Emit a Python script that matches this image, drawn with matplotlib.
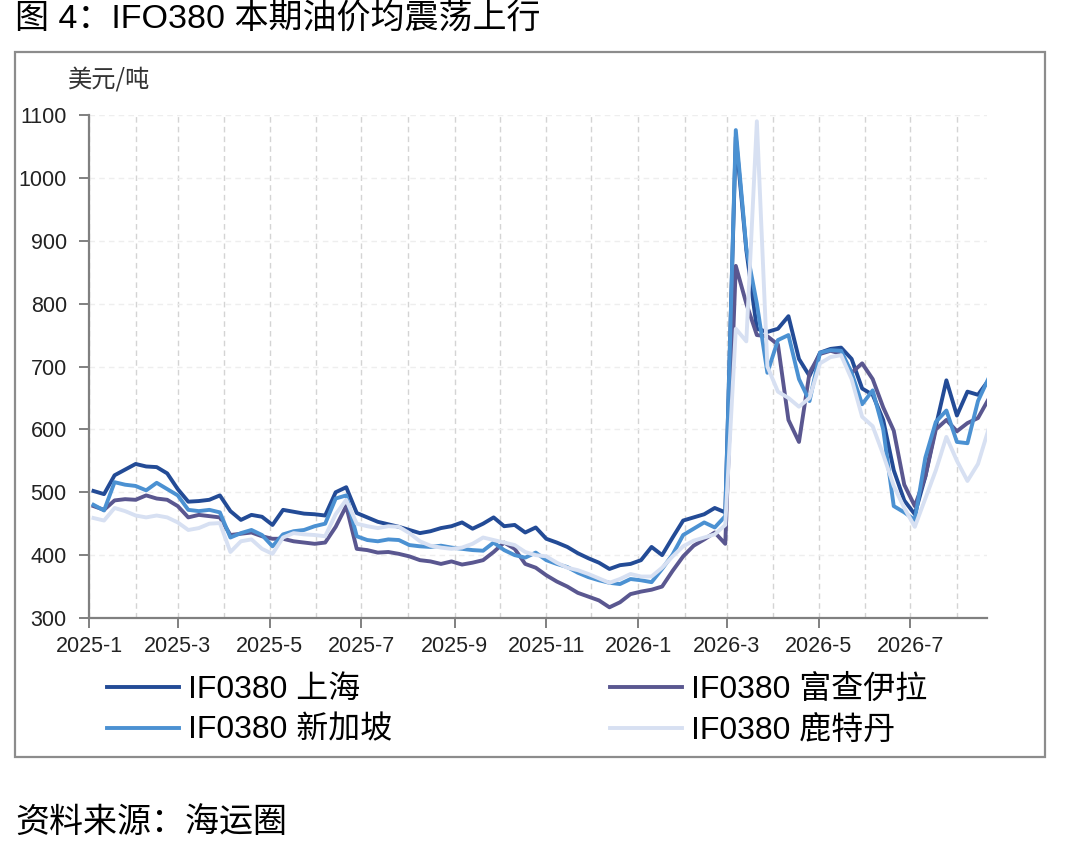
import matplotlib
matplotlib.use("Agg")
import matplotlib.pyplot as plt
import matplotlib.dates as mdates
from matplotlib.patches import Rectangle
from matplotlib.ticker import FuncFormatter, MultipleLocator
import pandas as pd

# -----------------------------
# Data (weekly readings, USD/t)
# -----------------------------
dates = pd.date_range("2025-01-04", periods=86, freq="7D")

shanghai = [502, 497, 527, 536, 545, 541, 540, 530, 505, 485,
            486, 488, 495, 470, 456, 464, 461, 448, 472, 469,
            466, 465, 463, 500, 508, 467, 460, 453, 449, 445,
            440, 435, 438, 443, 446, 452, 442, 450, 460, 446,
            448, 436, 444, 426, 420, 413, 403, 395, 388, 378,
            384, 386, 392, 413, 400, 428, 455, 460, 465, 475,
            468, 1065, 885, 760, 755, 760, 780, 712, 685, 722,
            728, 730, 712, 665, 655, 615, 535, 487, 465, 525,
            605, 678, 622, 660, 655, 678]

fujairah = [478, 472, 487, 489, 488, 495, 490, 488, 478, 460,
            464, 462, 460, 432, 434, 436, 430, 426, 426, 422,
            420, 418, 420, 445, 478, 410, 408, 404, 405, 402,
            398, 392, 390, 386, 390, 385, 388, 392, 405, 420,
            410, 386, 380, 368, 358, 350, 340, 334, 328, 317,
            325, 338, 342, 345, 350, 375, 398, 415, 425, 436,
            418, 860, 800, 750, 748, 735, 615, 580, 690, 720,
            725, 720, 690, 705, 680, 635, 598, 512, 478, 525,
            600, 615, 597, 610, 618, 648]

singapore = [480, 471, 516, 512, 510, 503, 515, 505, 495, 472,
             470, 472, 468, 428, 435, 440, 432, 414, 433, 438,
             440, 446, 450, 490, 495, 430, 424, 422, 425, 424,
             416, 414, 413, 415, 412, 410, 408, 407, 420, 408,
             400, 396, 404, 392, 386, 381, 372, 365, 360, 356,
             354, 362, 360, 357, 378, 401, 432, 442, 452, 444,
             462, 1076, 888, 800, 690, 742, 750, 680, 645, 722,
             726, 725, 690, 640, 662, 600, 478, 468, 456, 555,
             612, 630, 580, 578, 645, 681]

rotterdam = [459, 455, 475, 470, 463, 460, 463, 460, 452, 440,
             443, 450, 451, 405, 422, 425, 410, 402, 428, 435,
             433, 432, 430, 465, 488, 450, 446, 443, 446, 445,
             435, 422, 415, 412, 410, 412, 418, 428, 424, 420,
             416, 405, 400, 398, 388, 380, 376, 370, 363, 356,
             362, 370, 366, 366, 380, 398, 414, 423, 428, 433,
             448, 760, 740, 1090, 700, 660, 650, 636, 650, 705,
             715, 718, 680, 620, 605, 560, 510, 475, 445, 490,
             535, 588, 550, 518, 545, 600]

names = ["IF0380 上海", "IF0380 富查伊拉", "IF0380 新加坡", "IF0380 鹿特丹"]
colors = ["#234b96", "#5a5790", "#4b91d2", "#d7e0f2"]

plt.rcParams['font.family'] = ['Liberation Sans', 'Noto Sans CJK SC', 'DejaVu Sans']

# -----------------------------
# Figure
# -----------------------------
W, H = 1080, 846
fig = plt.figure(figsize=(W / 100, H / 100), dpi=100)

# outer frame
fig.add_artist(Rectangle((15 / W, 1 - 757 / H), 1030 / W, 705 / H, transform=fig.transFigure,
                         fill=False, ec="#8c8c8c", lw=1.6))

fig.text(15 / W, 1 - 20 / H, "图 4：IFO380 本期油价均震荡上行", fontsize=24.5,
         va="center", ha="left")
fig.text(15 / W, 1 - 822 / H, "资料来源：海运圈", fontsize=24.5,
         family=['Noto Sans CJK SC'], va="center", ha="left")
fig.text(68 / W, 1 - 80 / H, "美元/吨", fontsize=17.5, family=['Noto Sans CJK SC'],
         va="center", ha="left", color="#333333")

ax = fig.add_axes([89 / W, 1 - 618 / H, 898 / W, 503 / H])

lines = {}
for name, vals, c in zip(names, [shanghai, fujairah, singapore, rotterdam], colors):
    lines[name], = ax.plot(dates, vals, color=c, lw=2.8, label=name)

ax.set_xlim(pd.Timestamp("2025-01-01"), pd.Timestamp("2026-08-21"))
ax.set_ylim(300, 1100)
ax.yaxis.set_major_locator(MultipleLocator(100))
ax.xaxis.set_major_locator(mdates.MonthLocator(bymonth=[1, 3, 5, 7, 9, 11]))
ax.xaxis.set_minor_locator(mdates.MonthLocator())

def month_fmt(v, _):
    d = mdates.num2date(v)
    return f"{d.year}-{d.month}"
ax.xaxis.set_major_formatter(FuncFormatter(month_fmt))

for s in ["top", "right"]:
    ax.spines[s].set_visible(False)
for s in ["left", "bottom"]:
    ax.spines[s].set_color("#808080")
    ax.spines[s].set_linewidth(1.6)

ax.tick_params(which="major", direction="out", length=7, width=1.4, color="#808080",
               labelsize=15.5, labelcolor="#222222")
ax.tick_params(axis="y", pad=9)
ax.tick_params(axis="x", pad=6)
ax.tick_params(which="minor", length=0)
ax.grid(axis="x", which="both", ls=(0, (4, 3)), color="#d4d4d4", lw=1)
ax.grid(axis="y", which="major", ls=(0, (4, 3)), color="#eeeeee", lw=1)
ax.set_axisbelow(True)

order = ["IF0380 上海", "IF0380 新加坡", "IF0380 富查伊拉", "IF0380 鹿特丹"]
fig.legend([lines[n] for n in order], order, loc="upper left",
           bbox_to_anchor=(107 / W, 1 - 675 / H), ncol=2, frameon=False,
           fontsize=23, handlelength=2.25, handletextpad=0.3, columnspacing=6.8,
           labelspacing=0.33, borderpad=0, borderaxespad=0)

fig.savefig("out.png", dpi=100)
